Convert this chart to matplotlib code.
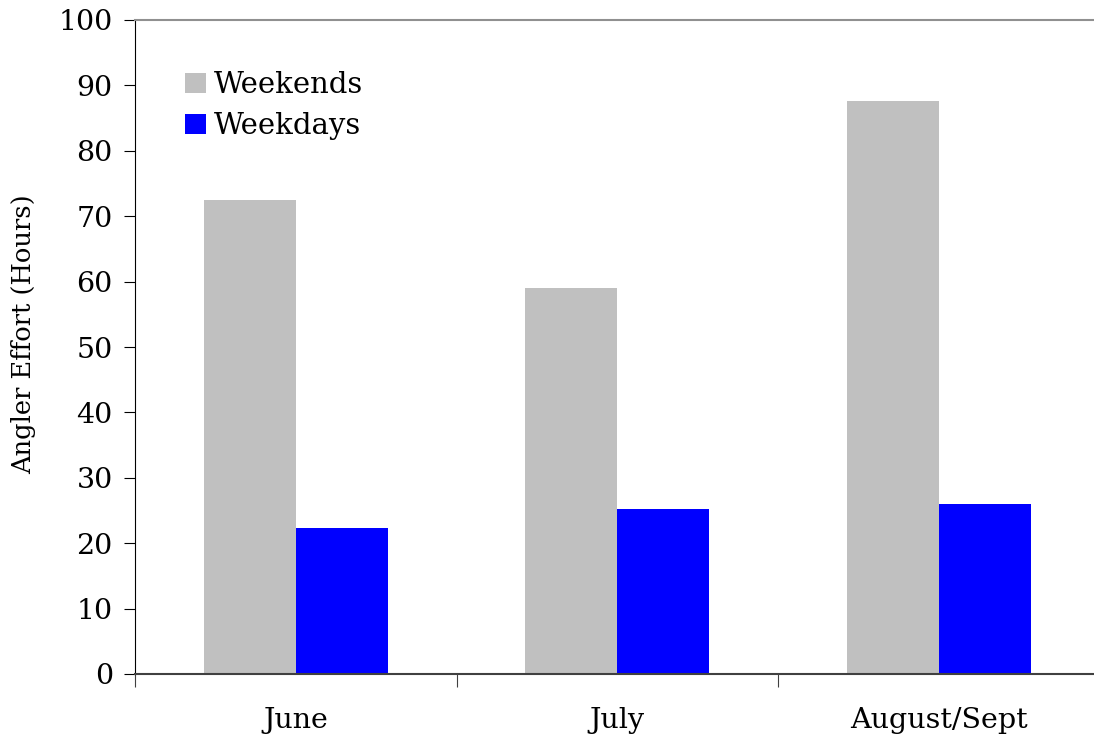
import matplotlib as mpl
import matplotlib.pyplot as plt
import numpy as np

mpl.rcParams['font.family'] = ['DejaVu Serif']

# data
months = ['June', 'July', 'August/Sept']
weekends = [72.5, 59.0, 87.6]
weekdays = [22.3, 25.2, 26.0]

fig = plt.figure(figsize=(10.94, 7.36), dpi=100)
# right edge of plot area lies just past the picture edge
ax = fig.add_axes([135 / 1094, 1 - 674 / 736, 964.5 / 1094, 654 / 736])

x = np.arange(len(months)) + 0.5
w = 0.286
ax.bar(x - w / 2, weekends, w, color='#c0c0c0', label='Weekends')
ax.bar(x + w / 2, weekdays, w, color='#0000ff', label='Weekdays')

ax.set_xlim(0, 3)
ax.set_ylim(0, 100)
ax.set_yticks(np.arange(0, 101, 10))
ax.set_xticks([0, 1, 2, 3])
ax.set_xticklabels([])
ax.set_xticks(x, minor=True)
ax.set_xticklabels(months, minor=True)
ax.tick_params(axis='x', which='minor', length=0, pad=24, labelsize=20.5)
ax.tick_params(axis='x', which='major', length=9, direction='out', color='#404040')
ax.tick_params(axis='y', length=8, direction='out', labelsize=20.5, pad=8)

ax.spines['left'].set_color('black')
ax.spines['bottom'].set_color('#404040')
ax.spines['bottom'].set_linewidth(1.5)
ax.spines['top'].set_color('#909090')
ax.spines['top'].set_linewidth(1.5)
ax.spines['right'].set_visible(False)

ax.set_ylabel('Angler Effort (Hours)', fontsize=18.5, labelpad=10)
ax.yaxis.set_label_coords(-0.102, 0.52)

ax.legend(loc='upper left', bbox_to_anchor=(0.052, 0.922), frameon=False,
          fontsize=21, handlelength=0.7, handleheight=0.7, handletextpad=0.3,
          labelspacing=0.45, borderaxespad=0, borderpad=0)

fig.savefig('out.png', dpi=100)
